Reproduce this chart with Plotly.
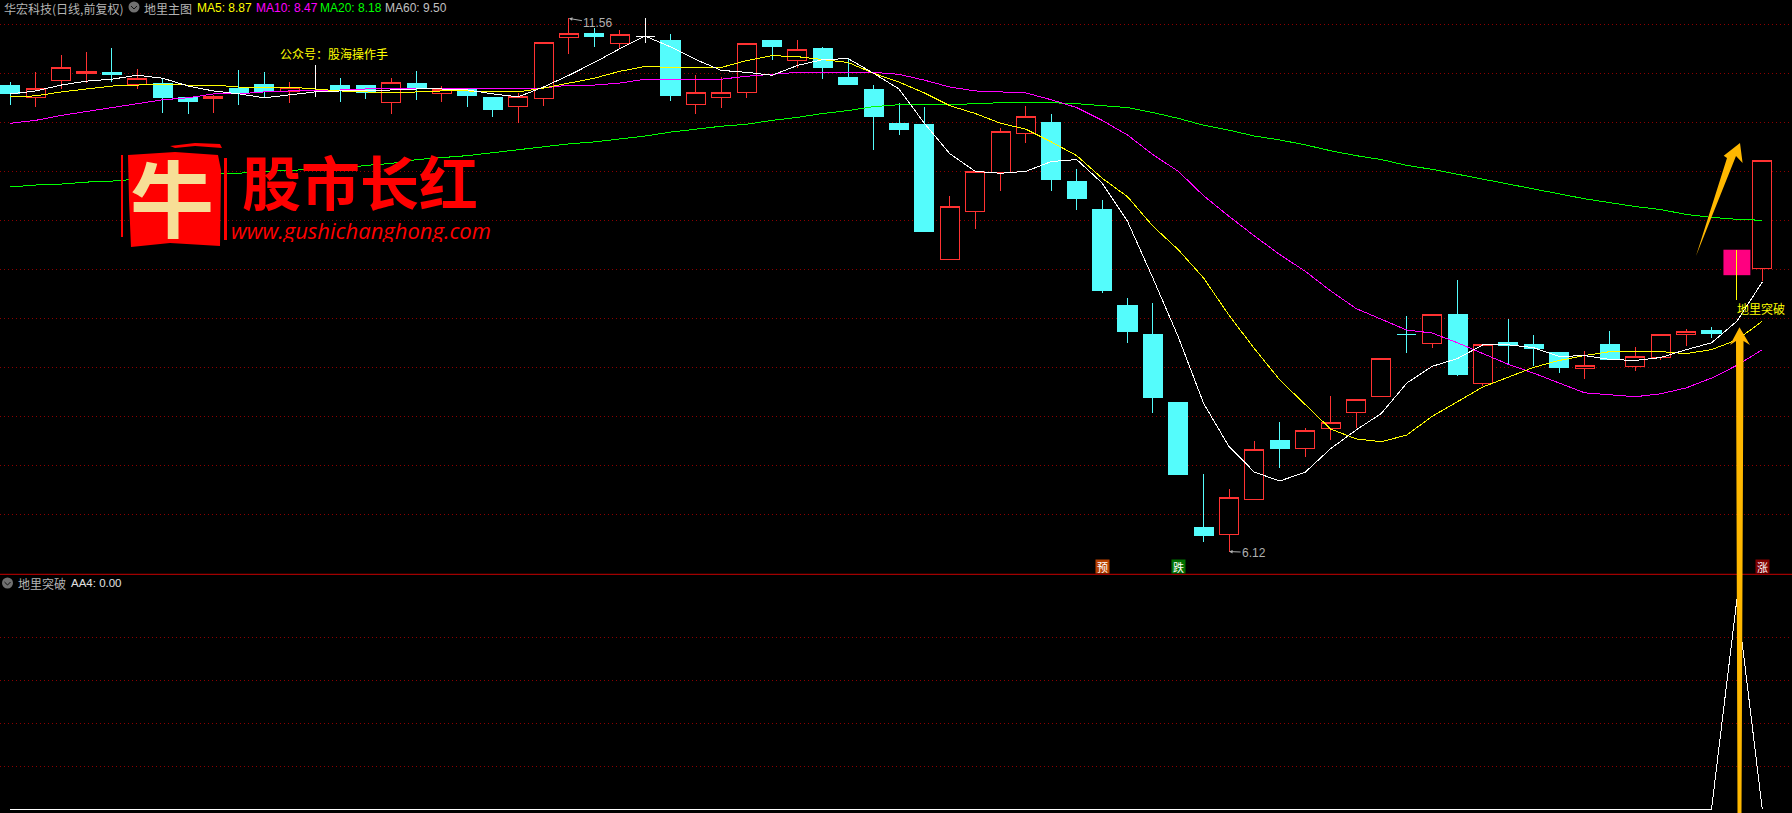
import plotly.graph_objects as go

W, H = 1792, 813
SPLIT = 574.3

# ---- data (prices) ----
opens = [10.88,10.75,10.93,11.00,11.01,10.89,10.90,10.75,10.74,10.85,10.89,10.81,10.82,10.88,10.88,10.70,10.90,10.79,10.84,10.75,
         10.66,10.74,11.37,11.41,11.30,11.38,11.33,10.68,10.75,10.80,11.33,11.13,11.25,10.96,10.83,10.49,10.48,9.10,9.59,9.99,
         10.39,10.50,9.90,9.61,8.63,8.34,7.64,6.37,6.29,6.65,7.25,7.17,7.38,7.54,7.70,8.33,8.24,8.54,7.84,8.25,
         8.23,8.15,7.99,8.23,8.01,8.10,8.34,8.38,8.94,9.01]
closes = [10.79,10.85,11.06,11.02,10.99,10.95,10.75,10.71,10.76,10.79,10.81,10.86,10.82,10.83,10.80,10.91,10.86,10.83,10.77,10.63,
          10.76,11.31,11.41,11.38,11.40,11.38,10.77,10.80,10.80,11.30,11.27,11.24,11.06,10.89,10.56,10.43,9.39,9.64,10.00,10.41,
          10.56,9.92,9.72,8.78,8.37,7.69,6.91,6.28,6.67,7.16,7.17,7.36,7.44,7.67,8.09,8.33,8.54,7.93,8.23,8.22,
          8.19,8.00,8.02,8.08,8.11,8.34,8.37,8.35,9.20,10.11]
highs = [10.91,11.01,11.19,11.22,11.26,11.04,10.94,10.76,10.78,11.03,11.01,10.91,11.08,10.95,10.88,10.95,11.02,10.87,10.84,10.76,
         10.80,11.32,11.56,11.46,11.44,11.56,11.40,10.98,10.96,11.30,11.33,11.34,11.27,11.16,10.88,10.70,10.66,9.75,10.00,10.44,
         10.67,10.58,10.02,9.71,8.71,8.66,7.64,6.91,6.76,7.25,7.44,7.38,7.71,7.67,8.09,8.52,8.54,8.89,8.23,8.49,
         8.33,8.15,8.17,8.37,8.21,8.34,8.39,8.41,9.20,10.11]
lows = [10.68,10.66,10.84,10.90,10.91,10.84,10.60,10.58,10.60,10.68,10.76,10.70,10.76,10.71,10.74,10.58,10.73,10.71,10.66,10.55,
        10.49,10.67,11.20,11.27,11.26,11.31,10.72,10.58,10.65,10.75,11.14,11.05,10.94,10.88,10.22,10.37,9.39,9.09,9.41,9.80,
        10.29,9.80,9.61,8.76,8.25,7.53,6.91,6.22,6.12,6.65,6.97,7.08,7.26,7.38,7.70,8.15,8.20,7.91,7.81,8.03,
        8.01,7.94,7.88,8.08,7.96,8.07,8.22,8.30,8.69,8.88]
ma5 = [10.79,10.82,10.88,10.92,10.94,10.98,10.95,10.87,10.82,10.79,10.75,10.78,10.81,10.82,10.82,10.83,10.84,10.84,10.83,10.79,
       10.76,10.86,10.98,11.11,11.25,11.38,11.27,11.14,11.03,11.01,10.98,11.08,11.14,11.15,11.00,10.84,10.49,10.18,10.00,9.98,
       10.00,10.10,10.12,9.88,9.49,8.91,8.31,7.63,7.19,6.93,6.84,6.93,7.17,7.36,7.53,7.84,8.01,8.09,8.23,8.23,
       8.20,8.11,8.12,8.08,8.07,8.10,8.18,8.25,8.47,8.87]
ma10 = [10.76,10.77,10.81,10.84,10.87,10.88,10.89,10.88,10.88,10.86,10.86,10.86,10.84,10.82,10.81,10.80,10.81,10.82,10.82,10.81,
        10.81,10.85,10.90,10.95,11.02,11.07,11.06,11.06,11.06,11.13,11.18,11.17,11.14,11.11,11.00,10.91,10.80,10.67,10.59,10.49,
        10.43,10.30,10.16,9.93,9.74,9.44,9.20,8.91,8.53,8.19,7.87,7.62,7.37,7.27,7.24,7.31,7.50,7.65,7.80,7.90,
        8.00,8.07,8.12,8.16,8.16,8.16,8.14,8.18,8.28,8.47]
ma20 = [10.49,10.52,10.57,10.61,10.65,10.69,10.73,10.75,10.79,10.79,10.81,10.82,10.82,10.83,10.84,10.84,10.84,10.84,10.84,10.84,
        10.84,10.85,10.88,10.88,10.90,10.94,10.94,10.94,10.94,10.97,10.99,11.01,11.01,11.01,11.01,10.99,10.93,10.86,10.82,10.81,
        10.80,10.73,10.65,10.52,10.37,10.17,10.00,9.75,9.54,9.34,9.15,8.98,8.78,8.60,8.49,8.38,8.35,8.25,8.14,8.03,
        7.94,7.84,7.74,7.72,7.70,7.73,7.79,7.89,8.02,8.18]
ma60 = [9.84,9.86,9.87,9.89,9.90,9.92,9.94,9.96,9.97,9.98,10.00,10.01,10.02,10.03,10.06,10.08,10.12,10.14,10.16,10.19,
        10.22,10.25,10.28,10.30,10.33,10.36,10.40,10.43,10.46,10.48,10.52,10.55,10.59,10.62,10.66,10.68,10.68,10.68,10.69,10.70,
        10.70,10.70,10.69,10.67,10.65,10.60,10.54,10.47,10.42,10.36,10.32,10.27,10.21,10.16,10.12,10.06,10.02,9.97,9.92,9.87,
        9.82,9.77,9.72,9.68,9.64,9.61,9.56,9.53,9.51,9.50]
aa4 = [0.0] * 68 + [1.0, 0.0]
index = list(range(70))
price_grid = [6.5, 7.0, 7.5, 8.0, 8.5, 9.0, 9.5, 10.0, 10.5, 11.0, 11.5]
aa4_grid = [0.205, 0.41, 0.614, 0.819]
white_doji = [12, 25]
signal_bar = 68
legend_items = [("MA5: 8.87", "#FFFF00", 195), ("MA10: 8.47", "#FF00FF", 254),
                ("MA20: 8.18", "#00FF00", 318), ("MA60: 9.50", "#C0C0C0", 383)]

RED, CYAN = "#FF3232", "#54FCFC"
GRID = "#8C0000"
CJK = "Noto Sans CJK SC"


def px(x):
    return x / W


def py(y):
    return 1 - y / H


def poly(points):
    return "M " + " L ".join(f"{px(x):.5f},{py(y):.5f}" for x, y in points) + " Z"


def subset(ids):
    return dict(x=ids, open=[opens[i] for i in ids], high=[highs[i] for i in ids],
                low=[lows[i] for i in ids], close=[closes[i] for i in ids])


def candle(ids, line, fill):
    style = dict(line=dict(color=line, width=1), fillcolor=fill)
    return go.Candlestick(**subset(ids), increasing=style, decreasing=style,
                          whiskerwidth=0, showlegend=False, xaxis="x", yaxis="y")


up = [i for i in index if closes[i] > opens[i] and i != signal_bar]
down = [i for i in index if closes[i] <= opens[i] and i not in white_doji]

fig = go.Figure()
fig.add_trace(go.Bar(x=[signal_bar], y=[closes[signal_bar] - opens[signal_bar]], base=[opens[signal_bar]],
                     width=1.06, marker=dict(color="#FF0080", line=dict(width=0)), showlegend=False))
fig.add_trace(candle(up, RED, "#000000"))
fig.add_trace(candle(down, CYAN, CYAN))
fig.add_trace(candle(white_doji, "#FFFFFF", "#FFFFFF"))
fig.add_trace(go.Scatter(x=[signal_bar, signal_bar], y=[highs[signal_bar], lows[signal_bar]], mode="lines",
                         line=dict(color="#FFFF00", width=1), showlegend=False))
for series, color in ((ma60, "#00FF00"), (ma20, "#FF00FF"), (ma10, "#FFFF00"), (ma5, "#FFFFFF")):
    fig.add_trace(go.Scatter(x=index, y=series, mode="lines", line=dict(color=color, width=1), showlegend=False))
fig.add_trace(go.Scatter(x=index, y=aa4, mode="lines", line=dict(color="#FFFFFF", width=1),
                         showlegend=False, xaxis="x2", yaxis="y2"))

shapes = [dict(type="line", xref="paper", yref="paper", x0=0, x1=1, y0=py(SPLIT), y1=py(SPLIT),
               line=dict(color="#C80000", width=1), layer="above")]


def icon(cx, cy):
    shapes.append(dict(type="circle", xref="paper", yref="paper", x0=px(cx - 5.5), x1=px(cx + 5.5),
                       y0=py(cy + 5.5), y1=py(cy - 5.5), fillcolor="#707070", line=dict(width=0), layer="above"))
    shapes.append(dict(type="path", xref="paper", yref="paper", layer="above",
                       path=f"M {px(cx-3):.5f},{py(cy-1):.5f} L {px(cx):.5f},{py(cy+2):.5f} L {px(cx+3):.5f},{py(cy-1):.5f}",
                       line=dict(color="#101010", width=1)))


icon(134, 7)
icon(7.5, 583)

GOLD = "#FFB800"
shapes.append(dict(type="path", xref="paper", yref="paper", layer="above", fillcolor=GOLD, line=dict(width=0),
                   path=poly([(1739.5, 327.3), (1750, 345), (1743.5, 341), (1741.5, 813), (1737.5, 813), (1736, 341), (1730, 345)])))
shapes.append(dict(type="path", xref="paper", yref="paper", layer="above", fillcolor=GOLD, line=dict(width=0),
                   path=poly([(1740, 143), (1742.6, 163), (1736, 156), (1696, 256), (1727, 158), (1723.7, 155.7)])))
shapes.append(dict(type="path", xref="paper", yref="paper", layer="above", fillcolor="#FF0000", line=dict(width=0),
                   path=poly([(128, 155), (175, 152), (218, 155), (221, 170), (220, 246), (170, 243), (131, 247), (129, 200)])))
for pts in ([(170, 146), (195, 143), (220, 144), (222, 148), (195, 146), (175, 148)],
            [(121, 155), (123, 155), (123, 237), (121, 237)],
            [(224, 158), (227, 158), (227, 240), (224, 240)]):
    shapes.append(dict(type="path", xref="paper", yref="paper", layer="above", fillcolor="#FF0000",
                       line=dict(width=0), path=poly(pts)))


def label(text, x, y, color, size=12, anchor="left", angle=0, box=None, wide=None, **font):
    ann = dict(text=text, xref="paper", yref="paper", x=px(x), y=py(y), xanchor=anchor, yanchor="middle",
               showarrow=False, textangle=angle,
               font=dict(family=font.pop("family", CJK), size=size, color=color, **font))
    if box:
        ann["height"] = box
    if wide:
        ann["width"] = wide
    return ann


def badge(text, i, color):
    return dict(text=text, xref="x", yref="paper", x=i, y=py(566.7), xanchor="center", yanchor="middle",
                showarrow=False, bgcolor=color, borderpad=0, width=13, height=13,
                font=dict(family=CJK, size=11, color="#FFFFFF"))


def price_flag(text, i, price, ax, ay):
    return dict(text=text, xref="x", yref="y", x=i, y=price, ax=ax, ay=ay, axref="pixel", ayref="pixel",
                showarrow=True, arrowhead=2, arrowsize=0.7, arrowwidth=1, arrowcolor="#B0B0B0",
                font=dict(family="Liberation Sans", size=12, color="#B0B0B0"))


annotations = [label("华宏科技(日线,前复权)", 2, 9, "#B4B4B4"),
               label("地里主图", 142, 9, "#B4B4B4"),
               label("公众号：股海操作手", 278, 53, "#FFFF00"),
               label("地里突破", 1735, 308, "#FFFF00"),
               label("地里突破", 16, 583, "#B4B4B4"),
               label("AA4: 0.00", 69, 583, "#E0E0E0", size=11.5, family="Liberation Sans"),
               badge("预", 43, "#B84000"), badge("跌", 46, "#007000"), badge("涨", 69, "#800000"),
               price_flag("11.56", 22, 11.56, 29, 5), price_flag("6.12", 48, 6.12, 25, 1),
               label("牛", 172, 195, "#F7DE96", size=84, anchor="center", box=88, wide=86, weight="bold"),
               label("股市长红", 360, 180, "#FF0000", size=59, anchor="center", box=62, weight="bold"),
               label("www.gushichanghong.com", 361, 230, "#FF0000", size=22, anchor="center", box=24,
                     family="Open Sans", style="italic")]
for text, color, x in legend_items:
    annotations.append(label(text, x, 8, color, family="Liberation Sans"))

axis_off = dict(showticklabels=False, ticks="", zeroline=False, showline=False)
fig.update_layout(
    width=W, height=H, margin=dict(l=0, r=0, t=0, b=0, pad=0), paper_bgcolor="#000000", plot_bgcolor="#000000",
    showlegend=False, boxmode="overlay", boxgap=0.25, boxgroupgap=0, barmode="overlay",
    xaxis=dict(domain=[0, 1], range=[-0.406, 70.17], showgrid=False, rangeslider=dict(visible=False), anchor="y", **axis_off),
    xaxis2=dict(domain=[0, 1], range=[-0.406, 70.17], showgrid=False, anchor="y2", **axis_off),
    yaxis=dict(domain=[py(SPLIT), 1], range=[5.888, 11.748], tickvals=price_grid, showgrid=True, gridcolor=GRID,
               gridwidth=1, griddash="1px,3px", anchor="x", **axis_off),
    yaxis2=dict(domain=[0, py(SPLIT)], range=[-0.0176, 1.119], tickvals=aa4_grid, showgrid=True, gridcolor=GRID,
                gridwidth=1, griddash="1px,3px", anchor="x2", **axis_off),
    shapes=shapes, annotations=annotations)

page_script = """
document.body.style.margin='0';
document.body.style.overflow='hidden';
document.body.style.background='#000';
var s=document.createElement('style');
s.textContent='.boxlayer path,.boxes path,.js-line{shape-rendering:crispEdges !important}';
document.head.appendChild(s);
"""
fig.write_html("out.html", post_script=page_script, config={"displayModeBar": False})
